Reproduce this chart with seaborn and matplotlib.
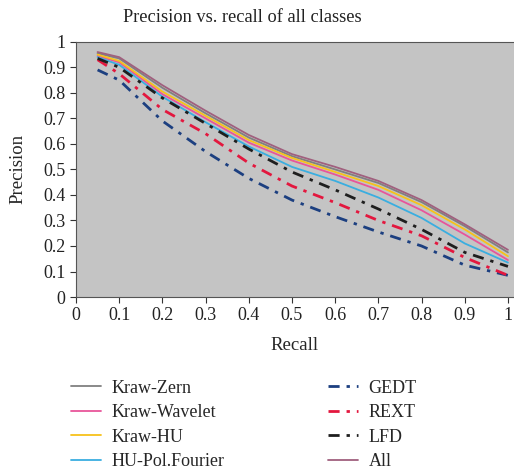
import numpy as np
import pandas as pd
import seaborn as sns
import matplotlib.pyplot as plt

# Values
recall = [0.05, 0.1, 0.2, 0.3, 0.4, 0.5, 0.6, 0.7, 0.8, 0.9, 1.0]

kraw_zern = [0.955, 0.935, 0.82, 0.72, 0.625, 0.552, 0.50, 0.447, 0.372, 0.278, 0.175]
kraw_wavelet = [0.945, 0.92, 0.795, 0.70, 0.605, 0.535, 0.48, 0.42, 0.34, 0.245, 0.145]
kraw_hu = [0.95, 0.925, 0.805, 0.71, 0.615, 0.545, 0.49, 0.435, 0.36, 0.265, 0.16]
hu_pol_fourier = [0.94, 0.91, 0.785, 0.685, 0.59, 0.51, 0.455, 0.39, 0.31, 0.21, 0.135]
gedt = [0.89, 0.85, 0.69, 0.57, 0.465, 0.38, 0.315, 0.255, 0.20, 0.125, 0.085]
rext = [0.93, 0.875, 0.735, 0.64, 0.525, 0.435, 0.37, 0.30, 0.24, 0.155, 0.085]
lfd = [0.935, 0.90, 0.78, 0.68, 0.58, 0.49, 0.42, 0.345, 0.265, 0.175, 0.12]
all_feat = [0.96, 0.94, 0.83, 0.73, 0.635, 0.56, 0.51, 0.455, 0.38, 0.285, 0.185]

names = ["Kraw-Zern", "Kraw-Wavelet", "Kraw-HU", "HU-Pol.Fourier", "GEDT", "REXT", "LFD", "All"]
series = [kraw_zern, kraw_wavelet, kraw_hu, hu_pol_fourier, gedt, rext, lfd, all_feat]
colors = ["#808080", "#e8559a", "#f7c21a", "#3aaee0", "#1c3f80", "#e3173e", "#1e1e1e", "#a0607e"]
dashed = [False, False, False, False, True, True, True, False]

sns.set_style("ticks")
plt.rcParams["font.family"] = ["Liberation Serif", "DejaVu Serif"]

fig = plt.figure(figsize=(5.14, 4.70), dpi=100)
# the plot area runs past the right edge of the picture, as in the reference
ax = fig.add_axes([76 / 514, 0.368, 438 / 514, 0.543])
ax.set_facecolor("#c4c4c4")

for name, vals, col, dd in zip(names, series, colors, dashed):
    df = pd.DataFrame({"Recall": recall, "Precision": vals})
    sns.lineplot(data=df, x="Recall", y="Precision", color=col, label=name,
                 linewidth=2.0 if dd else 1.3, ax=ax)
    if dd:
        ax.lines[-1].set_dashes((4, 2.5, 1.2, 2.5))

ax.set_xlim(0, 1.014)
ax.set_ylim(0, 1)
ticks = np.round(np.arange(0, 1.01, 0.1), 1)
ticklabels = ["0"] + [f"{t:.1f}" for t in ticks[1:-1]] + ["1"]
ax.set_xticks(ticks)
ax.set_xticklabels(ticklabels)
ax.set_yticks(ticks)
ax.set_yticklabels(ticklabels)
ax.tick_params(labelsize=13, length=4, colors="#333333", labelcolor="#222222")
ax.spines["right"].set_visible(False)
for s in ax.spines.values():
    s.set_color("#555555")

ax.set_xlabel("Recall", fontsize=13.5, labelpad=9)
ax.set_ylabel("Precision", fontsize=13.5, labelpad=12)
fig.text(242 / 514, 1 - 17 / 470, "Precision vs. recall of all classes", fontsize=13.2,
         ha="center", va="center", color="#222222")

ax.legend(loc="upper left", bbox_to_anchor=(0.107, 0.227), bbox_transform=fig.transFigure,
          ncol=2, frameon=False, fontsize=13, handlelength=1.65, columnspacing=5.7,
          labelspacing=0.42, handletextpad=0.6)

fig.savefig("out.png", dpi=100)
